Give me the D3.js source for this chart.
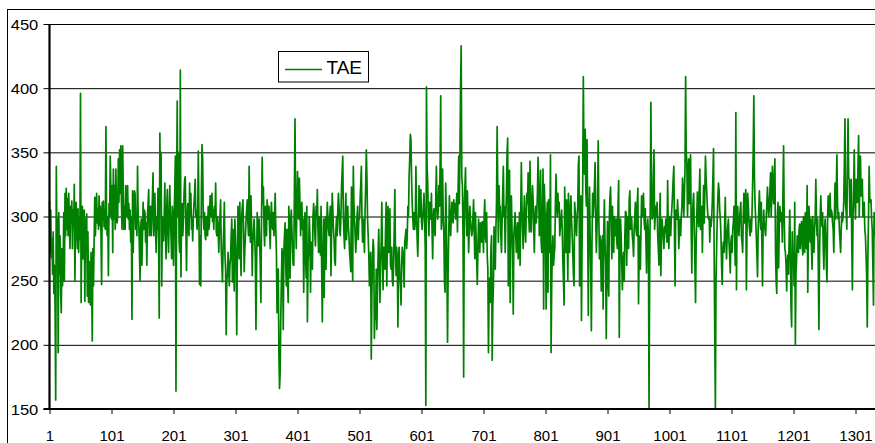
<!DOCTYPE html>
<html>
<head>
<meta charset="utf-8">
<script src="https://cdn.jsdelivr.net/npm/d3@7"></script>
<style>
  body { margin: 0; background: #fff; }
  svg { display: block; font-family: "Liberation Sans", Arial, sans-serif; }
</style>
</head>
<body>
<svg width="875" height="443"></svg>
<script>
const seriesName = "TAE";
const yTicks = [150, 200, 250, 300, 350, 400, 450];
const xTicks = [1, 101, 201, 301, 401, 501, 601, 701, 801, 901, 1001, 1101, 1201, 1301];

const tae = [
  312,272,305,268,283,255,288,240,262,230,157,339,270,298,194,303,255,285,240,225,
  275,246,262,303,250,318,285,322,290,314,285,318,300,275,308,295,312,275,305,292,
  325,250,300,311,290,275,306,272,298,282,396,233,290,308,267,300,305,234,298,272,
  302,238,288,233,265,255,231,272,250,203,275,246,282,315,285,300,318,295,306,290,
  316,293,308,288,247,311,298,312,292,300,290,370,302,285,300,254,310,300,347,320,
  298,324,272,337,298,324,290,337,310,295,300,345,311,352,318,355,313,290,355,320,
  290,308,290,324,300,305,
  324,298,310,290,305,280,300,220,320,272,300,320,318,290,302,285,339,300,295,275,
  250,290,298,262,285,311,290,305,303,280,295,262,300,310,321,285,300,308,285,298,
  315,334,285,300,318,290,272,300,290,322,280,221,365,310,350,246,300,285,281,300,
  326,290,267,305,321,290,272,300,324,298,285,267,308,300,262,300,320,347,164,320,
  390,300,350,280,272,414,253,300,310,285,298,318,329,331,290,258,300,310,290,285,
  326,300,318,290,298,281,300,310,318,329,300,305,290,298,351,300,247,285,246,320,
  356,345,300,290,303,285,282,300,300,285,308,290,294,316,
  316,300,318,296,305,290,308,300,326,288,285,300,292,272,290,300,313,275,262,249,
  276,290,311,270,259,208,250,255,272,260,246,262,267,285,298,249,290,260,242,298,
  280,265,208,270,308,290,267,311,275,254,300,308,313,290,257,274,285,298,305,313,
  295,285,339,300,280,316,290,254,280,288,298,285,267,212,260,303,290,277,298,280,
  259,233,300,346,310,323,290,277,308,296,285,313,305,298,308,290,275,300,311,293,
  290,303,285,300,318,290,272,225,250,259,194,166,178,220,250,275,265,212,272,285,
  295,262,246,290,250,233,308,290,252,298,305,290,272,262,
  262,320,376,300,275,310,335,300,298,330,310,285,300,311,290,298,241,280,303,270,
  252,308,218,265,274,300,285,241,280,270,259,300,310,303,285,277,308,300,321,290,
  272,300,285,270,308,260,218,265,298,237,280,300,259,290,311,300,290,285,300,308,
  254,290,318,305,290,282,265,262,290,300,285,305,318,308,290,285,300,323,335,347,
  300,285,275,300,318,282,295,308,292,285,272,265,257,323,290,250,339,310,298,285,
  272,285,300,308,282,300,298,313,325,339,300,280,298,290,272,305,324,352,330,298,
  285,270,246,262,272,189,240,267,282,275,205,225,220,259,
  212,243,270,290,265,233,262,280,311,270,243,276,262,259,290,311,246,285,308,272,
  285,306,262,259,276,250,246,262,290,321,275,254,276,262,214,270,276,254,246,231,
  262,276,272,262,245,280,285,290,275,285,308,300,331,345,364,360,330,310,298,290,
  303,290,295,339,303,282,269,290,324,300,310,321,296,290,298,308,318,300,275,153,
  401,340,326,300,285,311,300,298,318,290,267,300,306,290,285,313,339,310,298,305,
  324,308,340,394,290,300,337,300,288,250,241,326,300,260,202,260,288,316,300,285,
  298,311,300,295,313,303,310,298,308,318,288,320,347,310,
  350,400,433,330,324,285,175,310,323,338,300,285,320,300,272,290,308,298,290,285,
  288,300,313,290,267,303,285,267,247,275,298,285,272,295,290,280,296,290,272,300,
  313,285,280,303,270,259,194,240,252,233,275,285,188,230,246,292,275,259,290,311,
  370,320,280,324,305,308,285,272,298,318,339,300,308,272,300,318,350,361,246,310,
  336,233,290,316,290,272,224,285,295,303,285,272,290,295,267,285,303,262,300,342,
  310,290,275,300,316,290,280,303,318,310,334,300,288,343,305,288,310,324,313,290,
  272,300,308,295,303,318,346,320,285,310,336,280,272,300,
  337,228,325,308,290,228,300,311,241,313,290,272,348,194,246,275,285,262,270,276,
  310,333,311,300,318,303,311,285,292,298,305,290,265,250,231,323,290,272,313,285,
  250,318,300,272,305,316,298,285,272,255,246,311,303,292,285,300,308,340,347,246,
  300,316,219,280,324,409,350,333,368,320,308,360,300,223,290,323,285,259,211,280,
  318,300,310,324,342,300,272,290,311,359,300,267,285,272,242,280,285,228,290,313,
  280,262,205,260,296,250,238,300,316,323,290,267,308,280,272,300,292,285,298,280,
  275,310,328,206,270,298,285,262,243,265,272,250,285,304,
  303,262,300,290,275,313,320,290,300,298,285,280,269,290,300,311,290,285,310,322,
  232,270,285,259,290,316,300,305,318,298,290,306,280,256,290,298,285,151,260,308,
  389,320,298,300,330,352,290,300,308,300,311,285,275,262,300,318,254,280,298,290,
  285,275,292,288,298,285,280,328,290,275,300,298,285,300,308,318,330,339,290,246,
  305,300,298,313,300,275,290,298,285,300,308,330,320,300,315,337,409,350,342,300,
  320,345,310,330,348,290,256,300,311,318,290,262,233,280,300,319,300,292,320,337,
  290,296,308,272,300,324,295,320,347,330,320,308,300,298,
  300,280,298,292,298,311,330,353,272,210,151,250,275,298,315,326,320,305,298,285,
  262,247,275,280,272,295,315,280,267,285,292,298,280,270,256,280,285,272,290,295,
  308,290,262,381,243,300,308,290,285,298,305,311,285,280,272,300,318,295,308,321,
  243,290,318,310,298,290,285,298,288,300,323,350,394,330,310,298,285,270,253,290,
  305,320,300,290,311,280,246,290,305,292,290,285,298,310,323,310,300,308,320,334,
  300,318,339,320,310,330,345,272,250,240,300,311,260,290,308,300,296,303,280,320,
  355,300,275,272,262,242,265,270,255,285,305,272,230,214,
  288,262,270,246,311,200,255,267,285,280,272,290,294,275,285,296,280,270,300,285,
  272,303,290,275,324,241,285,308,290,280,298,275,259,300,285,272,290,300,329,300,
  285,298,260,212,270,298,316,300,292,303,275,259,290,298,285,262,249,300,316,303,
  300,318,300,305,303,295,290,272,300,326,298,320,348,310,298,303,290,282,272,290,
  303,296,300,311,340,376,310,303,290,340,376,330,329,300,320,329,280,243,300,324,
  352,310,298,329,318,311,340,363,300,330,347,316,320,329,300,305,311,290,285,270,
  254,214,270,300,339,315,311,313,298,290,262,231,303,290,285
];

const svg = d3.select("svg");
const plotLeft = 49.5, plotTop = 24, plotBottom = 409, plotRight = 875;
const step = 0.62;

const x = d3.scaleLinear()
  .domain([1, tae.length])
  .range([plotLeft, plotLeft + (tae.length - 1) * step]);
const y = d3.scaleLinear().domain([150, 450]).range([plotBottom, plotTop]);

// outer chart frame (cut by the picture edge)
svg.append("rect")
  .attr("x", 7.5).attr("y", 9.5)
  .attr("width", 900).attr("height", 480)
  .attr("fill", "none").attr("stroke", "#000").attr("stroke-width", 1);

// y axis: ticks, gridlines, labels
const yAxis = svg.append("g")
  .attr("transform", `translate(${plotLeft},0)`)
  .call(d3.axisLeft(y).tickValues(yTicks).tickSize(6).tickSizeOuter(0));
yAxis.select(".domain").remove();
yAxis.selectAll(".tick line")
  .attr("x1", -6).attr("x2", plotRight - plotLeft)
  .attr("stroke", "#000").attr("stroke-width", 1);
yAxis.selectAll(".tick text")
  .attr("x", null).attr("dy", null)
  .attr("transform", "translate(-11.2,5) scale(1.18,1)")
  .attr("text-anchor", "end")
  .attr("font-size", 14).attr("fill", "#000")
  .attr("font-family", "Liberation Sans, Arial, sans-serif");

// x axis
const xAxis = svg.append("g")
  .attr("transform", `translate(0,${plotBottom})`)
  .call(d3.axisBottom(x).tickValues(xTicks).tickFormat(d3.format("d")).tickSize(5).tickSizeOuter(0));
xAxis.select(".domain").remove();
xAxis.selectAll(".tick line").attr("stroke", "#000");
xAxis.selectAll(".tick text")
  .attr("y", 32).attr("dy", null)
  .attr("font-size", 15).attr("fill", "#000")
  .attr("font-family", "Liberation Sans, Arial, sans-serif");

// the series
const line = d3.line()
  .x((d, i) => x(i + 1))
  .y(d => y(d));
svg.append("path")
  .datum(tae)
  .attr("d", line)
  .attr("fill", "none")
  .attr("stroke", "#008000")
  .attr("stroke-width", 1.7)
  .attr("stroke-linejoin", "round");

// axis lines drawn on top
svg.append("line")
  .attr("x1", plotLeft).attr("x2", plotLeft).attr("y1", plotTop).attr("y2", plotBottom + 1)
  .attr("stroke", "#000").attr("stroke-width", 2.2);
svg.append("line")
  .attr("x1", plotLeft - 6).attr("x2", plotRight).attr("y1", plotBottom).attr("y2", plotBottom)
  .attr("stroke", "#000").attr("stroke-width", 2);

// legend
const legend = svg.append("g");
legend.append("rect")
  .attr("x", 278.5).attr("y", 51.5).attr("width", 90).attr("height", 30.5)
  .attr("fill", "#fff").attr("stroke", "#000");
legend.append("line")
  .attr("x1", 285).attr("x2", 322).attr("y1", 69.5).attr("y2", 69.5)
  .attr("stroke", "#008000").attr("stroke-width", 1.6);
legend.append("text")
  .attr("x", 326.5).attr("y", 74)
  .attr("font-size", 19)
  .text(seriesName);
</script>
</body>
</html>
